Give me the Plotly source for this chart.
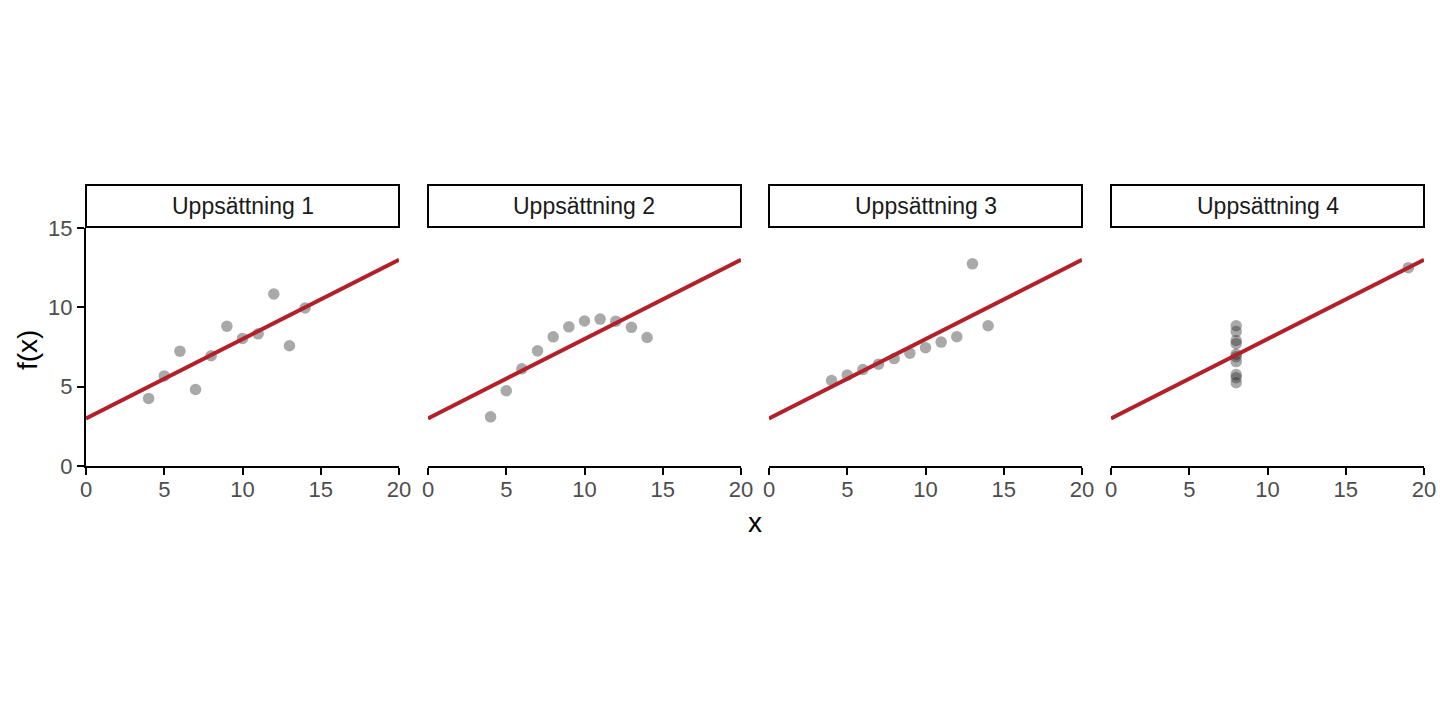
import plotly.graph_objects as go

x123 = [10, 8, 13, 9, 11, 14, 6, 4, 12, 7, 5]
y1 = [8.04, 6.95, 7.58, 8.81, 8.33, 9.96, 7.24, 4.26, 10.84, 4.82, 5.68]
y2 = [9.14, 8.14, 8.74, 8.77, 9.26, 8.10, 6.13, 3.10, 9.13, 7.26, 4.74]
y3 = [7.46, 6.77, 12.74, 7.11, 7.81, 8.84, 6.08, 5.39, 8.15, 6.42, 5.73]
x4 = [8, 8, 8, 8, 8, 8, 8, 19, 8, 8, 8]
y4 = [6.58, 5.76, 7.71, 8.84, 8.47, 7.04, 5.25, 12.50, 5.56, 7.91, 6.89]
panel_titles = ["Uppsättning 1", "Uppsättning 2", "Uppsättning 3", "Uppsättning 4"]
intercept = 3.0
slope = 0.5
x_range = [0, 20]
y_range = [0, 15]
x_ticks = [0, 5, 10, 15, 20]
y_ticks = [0, 5, 10, 15]

W, H = 1440, 720
panel_px = [(86, 399), (428, 741), (769, 1082), (1111, 1424)]
y_top_px, y_bot_px = 228, 466
strip_top_px, strip_bot_px = 185, 227

def px_x(p):
    return p / W

def px_y(p):
    return 1 - p / H

datasets = [(x123, y1), (x123, y2), (x123, y3), (x4, y4)]

fig = go.Figure()
font_family = "Liberation Sans, Arial, sans-serif"
shapes = []
annotations = []
for i, (xs, ys) in enumerate(datasets):
    n = i + 1
    xa = "x" if n == 1 else f"x{n}"
    ya = "y" if n == 1 else f"y{n}"
    fig.add_trace(go.Scatter(
        x=xs, y=ys, mode="markers", xaxis=xa, yaxis=ya,
        marker=dict(size=11.5, color="rgba(40,40,40,0.4)", line=dict(width=0)),
        showlegend=False, hoverinfo="x+y"))
    lx = list(x_range)
    ly = [intercept + slope * v for v in lx]
    fig.add_trace(go.Scatter(
        x=lx, y=ly, mode="lines", xaxis=xa, yaxis=ya,
        line=dict(color="#B2202A", width=4),
        showlegend=False, hoverinfo="skip"))
    l, r = panel_px[i]
    dom_x = [px_x(l), px_x(r)]
    xkey = "xaxis" if n == 1 else f"xaxis{n}"
    ykey = "yaxis" if n == 1 else f"yaxis{n}"
    fig.layout[xkey] = dict(
        domain=dom_x, range=x_range, tickvals=x_ticks, anchor=ya,
        showline=True, linecolor="black", linewidth=2,
        ticks="outside", ticklen=7, tickwidth=2, tickcolor="black",
        ticklabelstandoff=-4,
        tickfont=dict(size=22, color="#4d4d4d", family=font_family),
        showgrid=False, zeroline=False, fixedrange=True, automargin=False)
    fig.layout[ykey] = dict(
        domain=[px_y(y_bot_px), px_y(y_top_px)], range=y_range, tickvals=y_ticks,
        anchor=xa, showgrid=False, zeroline=False, fixedrange=True, automargin=False,
        showline=(n == 1), linecolor="black", linewidth=2,
        ticks="outside" if n == 1 else "", ticklen=7, tickwidth=2, tickcolor="black",
        showticklabels=(n == 1),
        tickfont=dict(size=22, color="#4d4d4d", family=font_family))
    shapes.append(dict(type="rect", xref="paper", yref="paper",
                       x0=px_x(l), x1=px_x(r), y0=px_y(strip_bot_px), y1=px_y(strip_top_px),
                       line=dict(color="black", width=2), fillcolor="white", layer="above"))
    annotations.append(dict(text=panel_titles[i], xref="paper", yref="paper",
                            x=(px_x(l) + px_x(r)) / 2,
                            y=(px_y(strip_bot_px) + px_y(strip_top_px)) / 2,
                            showarrow=False, xanchor="center", yanchor="middle",
                            font=dict(size=23, color="#1a1a1a", family=font_family)))

annotations.append(dict(text="x", xref="paper", yref="paper",
                        x=px_x((panel_px[0][0] + panel_px[3][1]) / 2), y=px_y(522),
                        showarrow=False, xanchor="center", yanchor="middle",
                        font=dict(size=28, color="black", family=font_family)))
annotations.append(dict(text="f(x)", xref="paper", yref="paper",
                        x=px_x(27), y=px_y(350), textangle=-90,
                        showarrow=False, xanchor="center", yanchor="middle",
                        font=dict(size=28, color="black", family=font_family)))

fig.update_layout(
    width=W, height=H, margin=dict(l=0, r=0, t=0, b=0, autoexpand=False),
    paper_bgcolor="white", plot_bgcolor="white",
    shapes=shapes, annotations=annotations,
    font=dict(family=font_family))

post = ("document.documentElement.style.margin='0';document.documentElement.style.padding='0';"
        "document.body.style.margin='0';document.body.style.padding='0';"
        "document.documentElement.style.overflow='hidden';document.body.style.overflow='hidden';")

fig.write_html("out.html", config={"displayModeBar": False}, post_script=post)
